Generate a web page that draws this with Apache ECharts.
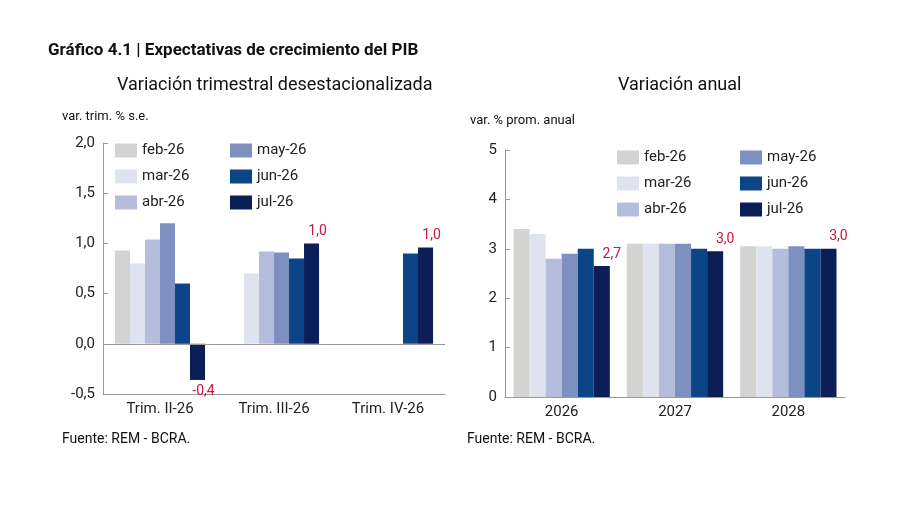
<!DOCTYPE html><html><head><meta charset="utf-8">
<script src="https://cdn.jsdelivr.net/npm/echarts@6/dist/echarts.min.js"></script>
<style>body{margin:0;background:#fff}#c{width:900px;height:505px}</style></head><body><div id="c"></div>
<script>
const names=['feb-26','mar-26','abr-26','may-26','jun-26','jul-26'];
const colors=['#d3d3d1','#dfe3f0','#b4bddb','#7d90c0','#0b4487','#0c1e57'];
const catsL=['Trim. II-26','Trim. III-26','Trim. IV-26'];
const catsR=['2026','2027','2028'];
const valsL=[[0.93,null,null],[0.8,0.7,null],[1.04,0.92,null],[1.2,0.91,null],[0.6,0.85,0.9],[-0.36,1.0,0.96]];
const valsR=[[3.4,3.1,3.05],[3.3,3.1,3.05],[2.8,3.1,3.0],[2.9,3.1,3.05],[3.0,3.0,3.0],[2.65,2.95,3.0]];
const labL=['-0,4','1,0','1,0'], labR=['2,7','3,0','3,0'];
const F='Roboto, sans-serif';
const ch=echarts.init(document.getElementById('c'));
const series=[];
names.forEach((n,i)=>{
 const isJ=i===5;
 const dL=valsL[i].map(v=>(isJ&&v<0)?{value:v,label:{position:'bottom'}}:v);
 series.push({type:'bar',name:n,xAxisIndex:0,yAxisIndex:0,data:dL,itemStyle:{color:colors[i]},barGap:'0%',barCategoryGap:'21%',
  label:{show:isJ,color:'#c8163f',fontFamily:F,fontSize:14,position:'top',offset:[6,0],formatter:p=>labL[p.dataIndex]},
  markLine:i===0?{silent:true,symbol:'none',label:{show:false},lineStyle:{color:'#999',type:'solid',width:1},data:[{yAxis:0}]}:undefined});
 series.push({type:'bar',name:n,xAxisIndex:1,yAxisIndex:1,data:valsR[i],itemStyle:{color:colors[i]},barGap:'0%',barCategoryGap:'15%',
  label:{show:isJ,color:'#c8163f',fontFamily:F,fontSize:14,position:'top',offset:[10,0],formatter:p=>labR[p.dataIndex]}});
});
const lg=(data,left,top)=>({data,left,top,orient:'vertical',itemWidth:22,itemHeight:14,itemGap:11,icon:'rect',textStyle:{fontFamily:F,fontSize:15,color:'#222'}});
const tx=(t,l,tp,s,w)=>({type:'text',left:l,top:tp,style:{text:t,font:(w||'normal')+' '+s+'px '+F,fill:'#111'}});
ch.setOption({
 animation:false,
 grid:[{left:103,top:143,width:342,height:251},{left:505,top:150,width:340,height:247}],
 legend:[lg(names.slice(0,3),110,138),lg(names.slice(3),225,138),lg(names.slice(0,3),612,145),lg(names.slice(3),735,145)],
 xAxis:[0,1].map(i=>({type:'category',gridIndex:i,data:i?catsR:catsL,axisTick:{show:false},axisLine:{onZero:false,lineStyle:{color:'#999'}},axisLabel:{fontFamily:F,fontSize:15,color:'#222',margin:8}})),
 yAxis:[{gridIndex:0,min:-0.5,max:2,interval:0.5,splitLine:{show:false},axisLine:{show:true,lineStyle:{color:'#999'}},axisTick:{show:true,inside:true,lineStyle:{color:'#999'}},axisLabel:{fontFamily:F,fontSize:15,color:'#222',formatter:v=>v.toFixed(1).replace('.',',')}},
  {gridIndex:1,min:0,max:5,interval:1,splitLine:{show:false},axisLine:{show:true,lineStyle:{color:'#999'}},axisTick:{show:true,inside:true,lineStyle:{color:'#999'}},axisLabel:{fontFamily:F,fontSize:15,color:'#222'}}],
 series,
 graphic:[tx('Gráfico 4.1 | Expectativas de crecimiento del PIB',48,42,17,'bold'),
  tx('Variación trimestral desestacionalizada',117,76,18),tx('Variación anual',618,76,18),
  tx('var. trim. % s.e.',62,110,13),tx('var. % prom. anual',470,114,13),
  tx('Fuente: REM - BCRA.',62,432,14),tx('Fuente: REM - BCRA.',467,432,14)]
});
</script></body></html>
